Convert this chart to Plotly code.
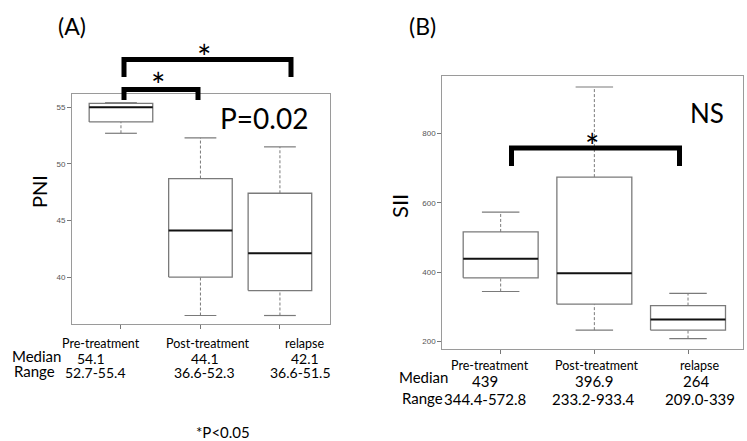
import plotly.graph_objects as go

W, H = 747, 441

categories = ["Pre-treatment", "Post-treatment", "relapse"]

# Panel A: PNI
pni_low = [52.7, 36.6, 36.6]
pni_q1 = [53.7, 40.0, 38.8]
pni_med = [55.0, 44.1, 42.1]
pni_q3 = [55.35, 48.7, 47.4]
pni_high = [55.4, 52.3, 51.5]
pni_median_txt = ["54.1", "44.1", "42.1"]
pni_range_txt = ["52.7-55.4", "36.6-52.3", "36.6-51.5"]

# Panel B: SII
sii_low = [344.4, 233.2, 209.0]
sii_q1 = [384, 308, 233]
sii_med = [439, 396.9, 264]
sii_q3 = [516, 674, 304]
sii_high = [572.8, 933.4, 339]
sii_median_txt = ["439", "396.9", "264"]
sii_range_txt = ["344.4-572.8", "233.2-933.4", "209.0-339"]

BOXW = 0.8
CAPW = 0.4
GRAY = "#7a7a7a"
FONT = "Lato"

fig = go.Figure()


def add_boxes(lo, q1, med, q3, hi, xa, ya):
    for i in range(len(categories)):
        l, r = i - BOXW / 2, i + BOXW / 2
        # whiskers (dashed)
        fig.add_trace(go.Scatter(x=[i, i, None, i, i], y=[q3[i], hi[i], None, lo[i], q1[i]],
                                 mode="lines", line=dict(color=GRAY, width=1, dash="3px,2px"),
                                 xaxis=xa, yaxis=ya, showlegend=False, hoverinfo="skip"))
        # caps
        fig.add_trace(go.Scatter(x=[i - CAPW / 2, i + CAPW / 2, None, i - CAPW / 2, i + CAPW / 2],
                                 y=[hi[i], hi[i], None, lo[i], lo[i]],
                                 mode="lines", line=dict(color=GRAY, width=1.2),
                                 xaxis=xa, yaxis=ya, showlegend=False, hoverinfo="skip"))
        # box
        fig.add_trace(go.Scatter(x=[l, r, r, l, l], y=[q1[i], q1[i], q3[i], q3[i], q1[i]],
                                 mode="lines", line=dict(color=GRAY, width=1.3),
                                 fill="toself", fillcolor="white",
                                 xaxis=xa, yaxis=ya, showlegend=False, hoverinfo="skip"))
        # median
        fig.add_trace(go.Scatter(x=[l, r], y=[med[i], med[i]], mode="lines",
                                 line=dict(color="#111111", width=2),
                                 xaxis=xa, yaxis=ya, showlegend=False, hoverinfo="skip"))


add_boxes(pni_low, pni_q1, pni_med, pni_q3, pni_high, "x", "y")
add_boxes(sii_low, sii_q1, sii_med, sii_q3, sii_high, "x2", "y2")

axis_common = dict(showgrid=False, zeroline=False, showline=True, mirror=True,
                   linecolor="#9a9a9a", linewidth=1, ticks="outside", tickcolor="#777777",
                   ticklen=4, tickfont=dict(family="Liberation Sans", size=8, color="#555555"))

fig.update_layout(
    width=W, height=H, margin=dict(l=0, r=0, t=0, b=0),
    paper_bgcolor="white", plot_bgcolor="white",
    xaxis=dict(domain=[72 / W, 330 / W], range=[-0.616, 2.63], tickvals=[0, 1, 2],
               showticklabels=False, anchor="y", **axis_common),
    yaxis=dict(domain=[1 - 324 / H, 1 - 94 / H], range=[35.85, 56.17], tickvals=[40, 45, 50, 55],
               anchor="x", **axis_common),
    xaxis2=dict(domain=[442.3 / W, 743.3 / W], range=[-0.623, 2.59], tickvals=[0, 1, 2],
                showticklabels=False, anchor="y2", **axis_common),
    yaxis2=dict(domain=[1 - 349.3 / H, 1 - 75.7 / H], range=[178, 966], tickvals=[200, 400, 600, 800],
                anchor="x2", **axis_common),
)

# Significance brackets (paper pixel positions)
BR = dict(color="black", width=5)


def bracket(x0, x1, ytop, ybot):
    px = lambda v: v / W
    py = lambda v: 1 - v / H
    fig.add_shape(type="path", xref="paper", yref="paper",
                  path=f"M {px(x0)} {py(ybot)} L {px(x0)} {py(ytop)} L {px(x1)} {py(ytop)} L {px(x1)} {py(ybot)}",
                  line=BR)


bracket(124, 291, 59.5, 77)
bracket(124, 198, 89.5, 100)
bracket(511.5, 679.5, 148, 166)


def ann(text, x, y, size, **kw):
    fig.add_annotation(text=text, x=x / W, y=1 - y / H, xref="paper", yref="paper",
                       showarrow=False, font=dict(family=FONT, size=size, color=kw.pop("color", "black")),
                       xanchor=kw.pop("xanchor", "center"), yanchor=kw.pop("yanchor", "middle"), **kw)


ann("(A)", 72, 26, 23)
ann("(B)", 422, 26, 23)
ann("PNI", 39, 192, 20, textangle=-90)
ann("SII", 400, 206, 22, textangle=-90)
ann("P=0.02", 264, 118, 28)
ann("NS", 707, 113, 26)
ann("*", 204, 56, 34)
ann("*", 158, 84, 34)
ann("*", 592, 145, 34)

# Panel A category / median / range text
a_cat_x = [101, 208, 304]
a_med_x = [91, 205, 305]
a_rng_x = [95, 204, 300]
for i in range(3):
    ann(categories[i], a_cat_x[i], 343, 12.5)
    ann(pni_median_txt[i], a_med_x[i], 358, 14)
    ann(pni_range_txt[i], a_rng_x[i], 372, 14)
ann("Median", 36, 356, 15)
ann("Range", 34, 371, 15)

# Panel B category / median / range text
b_cat_x = [490, 597, 699]
b_med_x = [485, 594, 696]
b_rng_x = [485, 593, 700]
for i in range(3):
    ann(categories[i], b_cat_x[i], 365, 12.5)
    ann(sii_median_txt[i], b_med_x[i], 381, 15)
    ann(sii_range_txt[i], b_rng_x[i], 399, 15)
ann("Median", 424, 377, 15)
ann("Range", 422, 398, 15)

ann("*P<0.05", 223, 432, 15)

fig.write_html("out.html")
